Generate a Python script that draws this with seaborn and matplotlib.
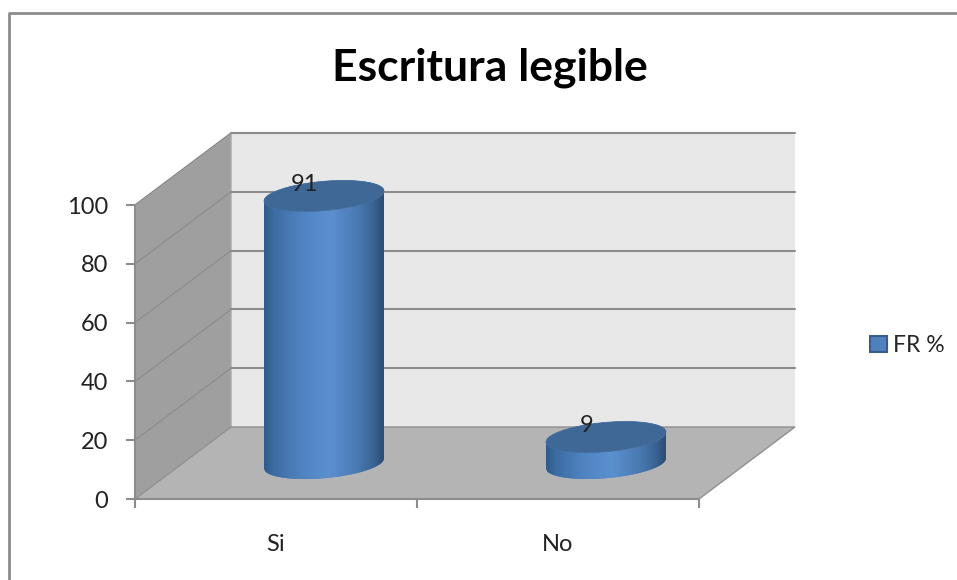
"""
Escritura legible - fake 3D cylinder chart
"""

import matplotlib.pyplot as plt
import numpy as np
import pandas as pd
import seaborn as sns
from matplotlib.colors import LinearSegmentedColormap
from matplotlib.lines import Line2D
from matplotlib.patches import Polygon, Rectangle
from matplotlib.path import Path
from matplotlib.transforms import IdentityTransform

categories = ["Si", "No"]
values = [91, 9]
series_name = "FR %"
y_ticks = [0, 20, 40, 60, 80, 100]
title = "Escritura legible"

GRID = "#8c8c8c"
WALL_DEPTH = np.array([96.0, 72.0])  # pixels
BAR_DEPTH = np.array([48.0, 35.5])
CAP = np.array([[60.0, 0.0], [5.0, 14.7]])  # ellipse axes in pixels


def cap_points(center, t):
    t = np.asarray(t)
    circle = np.column_stack([np.cos(t), np.sin(t)])
    return center + circle @ CAP.T


def draw_walls(ax, to_px):
    x0, x1 = ax.get_xlim()
    identity = IdentityTransform()
    front_left = to_px((x0, 0))
    front_right = to_px((x1, 0))
    top_left = to_px((x0, 100))
    top_right = to_px((x1, 100))

    back = Polygon([front_left + WALL_DEPTH, front_right + WALL_DEPTH,
                    top_right + WALL_DEPTH, top_left + WALL_DEPTH],
                   transform=identity, fc="#e8e8e8", ec="none", zorder=0.5, clip_on=False)
    side = Polygon([front_left, front_left + WALL_DEPTH, top_left + WALL_DEPTH, top_left],
                   transform=identity, fc="#9f9f9f", ec="#a8a8a8", lw=1, zorder=0.6, clip_on=False)
    floor = Polygon([front_left, front_right, front_right + WALL_DEPTH, front_left + WALL_DEPTH],
                    transform=identity, fc="#b4b4b4", ec="#909090", lw=1, zorder=0.7, clip_on=False)
    ax.add_patch(back)
    ax.add_patch(side)
    ax.add_patch(floor)

    for tick in y_ticks[1:]:
        a = to_px((x0, tick))
        b = to_px((x1, tick))
        ax.plot([a[0] + WALL_DEPTH[0], b[0] + WALL_DEPTH[0]],
                [a[1] + WALL_DEPTH[1], b[1] + WALL_DEPTH[1]],
                transform=identity, color=GRID, lw=1.5, zorder=0.8, clip_on=False)
        ax.plot([a[0], a[0] + WALL_DEPTH[0]], [a[1], a[1] + WALL_DEPTH[1]],
                transform=identity, color="#8a8a8a", lw=0.8, zorder=0.8, clip_on=False)


def draw_cylinder(ax, bar, to_px, cmap):
    x = bar.get_x()
    w = bar.get_width()
    h = bar.get_height()
    bottom = to_px((x + w / 2, 0)) + BAR_DEPTH
    top = to_px((x + w / 2, h)) + BAR_DEPTH

    lower = cap_points(bottom, np.linspace(np.pi, 2 * np.pi, 60))
    upper = cap_points(top, np.linspace(0, np.pi, 60))
    outline = Path(np.vstack([lower, upper, lower[:1]]), closed=True)

    bar.set_transform(IdentityTransform())
    bar.set_xy((bottom[0] - CAP[0, 0], bottom[1] - 20))
    bar.set_width(2 * CAP[0, 0])
    bar.set_height(top[1] - bottom[1] + 40)
    bar.set_clip_box(None)
    bar.set_clip_path(outline, IdentityTransform())
    bar.set_zorder(2)

    extent = (bottom[0] - CAP[0, 0], bottom[0] + CAP[0, 0], bottom[1] - 20, top[1] + 20)
    im = ax.imshow(np.linspace(0, 1, 120)[None, :], cmap=cmap, aspect="auto", extent=extent,
                   transform=IdentityTransform(), zorder=2.1)
    # images fall back to the axes box when they have no clip box
    im.set_clip_box(ax.figure.bbox)
    im.set_clip_path(outline, IdentityTransform())

    cap = Polygon(cap_points(top, np.linspace(0, 2 * np.pi, 120)), transform=IdentityTransform(),
                  fc="#3f6897", ec="#44709f", lw=0.5, zorder=2.2, clip_on=False)
    ax.add_patch(cap)


def main():
    sns.set_style("white")
    plt.rcParams["font.family"] = ["Lato", "DejaVu Sans"]

    df = pd.DataFrame({"category": categories, "value": values})

    fig = plt.figure(figsize=(9.57, 5.80), dpi=100)
    ax = fig.add_axes([135 / 957, (580 - 499) / 580, 564 / 957, 294 / 580])
    ax.patch.set_visible(False)

    sns.barplot(data=df, x="category", y="value", ax=ax, width=0.4255, color="#4f81bd",
                saturation=1, label=series_name, legend=False)
    ax.set_xlim(-0.5, 1.5)
    ax.set_ylim(0, 100)
    ax.set_xlabel("")
    ax.set_ylabel("")

    fig.canvas.draw()
    to_px = lambda p: ax.transData.transform(p)

    draw_walls(ax, to_px)

    cmap = LinearSegmentedColormap.from_list(
        "cyl",
        [(0, "#305a8a"), (0.08, "#3d6ca3"), (0.3, "#4f83c0"), (0.55, "#5b90cf"),
         (0.78, "#4a7ab3"), (0.92, "#3a6393"), (1, "#2c4d74")],
    )
    bars = [p for p in ax.patches if isinstance(p, Rectangle)]
    for bar in bars:
        draw_cylinder(ax, bar, to_px, cmap)
    ax.set_xlim(-0.5, 1.5)
    ax.set_ylim(0, 100)

    for i, v in enumerate(values):
        ax.annotate(str(v), (i, v), xytext=(29, 47), textcoords="offset pixels",
                    ha="center", va="center", fontsize=17, color="#222222",
                    zorder=3, annotation_clip=False)

    ax.set_yticks(y_ticks)
    ax.set_xticks([0, 1], categories)
    ax.set_xticks([-0.5, 0.5, 1.5], minor=True)
    ax.tick_params(axis="x", which="major", bottom=False, pad=21.5, labelsize=17, labelcolor="#222222")
    ax.tick_params(axis="x", which="minor", bottom=True, length=6.5, width=1.5, color=GRID)
    ax.tick_params(axis="y", left=True, length=6.5, width=1.5, color=GRID, pad=13, labelsize=17,
                   labelcolor="#222222")
    for name in ["top", "right"]:
        ax.spines[name].set_visible(False)
    for name in ["left", "bottom"]:
        ax.spines[name].set_color(GRID)
        ax.spines[name].set_linewidth(1.5)
        ax.spines[name].set_zorder(1)

    fig.text(490 / 957, 1 - 68 / 580, title, ha="center", va="center", fontsize=32,
             fontweight="bold", color="black")

    handle = Rectangle((0, 0), 1, 1, fc="#4f81bd", ec="#385d8a", lw=1.5)
    fig.legend([handle], [series_name], loc="center left", bbox_to_anchor=(870 / 957, 1 - 345.5 / 580),
               frameon=False, fontsize=16.5, handlelength=0.74, handleheight=0.74, handletextpad=0.25,
               borderpad=0, borderaxespad=0)

    # chart border runs off the right and bottom of the picture
    fig.add_artist(Line2D([9, 9, 957], [0, 567, 567], transform=IdentityTransform(),
                          color="#8c8c8c", lw=2, zorder=5))

    fig.savefig("out.png", dpi=100)


if __name__ == "__main__":
    main()
